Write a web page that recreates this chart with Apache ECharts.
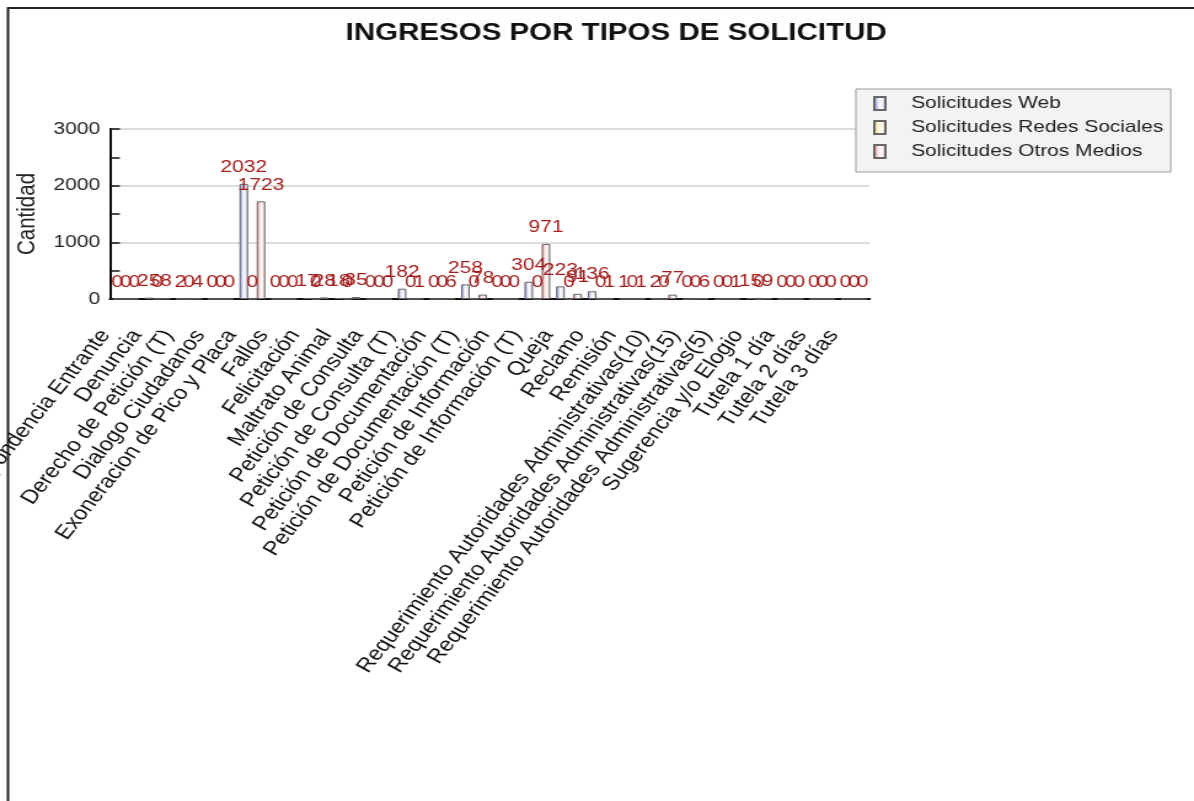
<!DOCTYPE html>
<html>
<head>
<meta charset="utf-8">
<script src="https://cdn.jsdelivr.net/npm/echarts@6/dist/echarts.min.js"></script>
<style>
    html, body { margin: 0; padding: 0; background: #fff; overflow: hidden; }
    /* the reference picture is stretched sideways, so draw narrow and scale x */
    #chart { width: 971px; height: 801px; transform: scaleX(1.2297); transform-origin: 0 0; }
</style>
</head>
<body>
<div id="chart"></div>
<script>
var categories = ['Correspondencia Entrante', 'Denuncia', 'Derecho de Petición (T)', 'Dialogo Ciudadanos',
    'Exoneracion de Pico y Placa', 'Fallos', 'Felicitación', 'Maltrato Animal', 'Petición de Consulta',
    'Petición de Consulta (T)', 'Petición de Documentación', 'Petición de Documentación (T)',
    'Petición de Información', 'Petición de Información (T)', 'Queja', 'Reclamo', 'Remisión',
    'Requerimiento Autoridades Administrativas(10)', 'Requerimiento Autoridades Administrativas(15)',
    'Requerimiento Autoridades Administrativas(5)', 'Sugerencia y/o Elogio', 'Tutela 1 día',
    'Tutela 2 días', 'Tutela 3 días'];
var seriesNames = ['Solicitudes Web', 'Solicitudes Redes Sociales', 'Solicitudes Otros Medios'];
var webValues   = [0, 25, 2, 0, 2032, 0, 17, 18, 0, 182, 0, 258, 0, 304, 223, 136, 1, 2, 0, 0, 15, 0, 0, 0];
var redesValues = [0, 0, 0, 0, 0, 0, 0, 0, 0, 0, 0, 0, 0, 0, 0, 0, 0, 0, 0, 0, 0, 0, 0, 0];
var otrosValues = [0, 8, 4, 0, 1723, 0, 28, 35, 0, 1, 6, 78, 0, 971, 91, 1, 1, 77, 6, 1, 9, 0, 0, 0];
var yTicks = [0, 1000, 2000, 3000];

var font = 'Liberation Sans, Arial, sans-serif';

function barFill(c1, c2) {
    return new echarts.graphic.LinearGradient(0, 0, 1, 0, [
        { offset: 0, color: c1 },
        { offset: 0.5, color: '#ffffff' },
        { offset: 1, color: c2 }
    ]);
}

function makeSeries(name, data, c1, c2) {
    return {
        name: name,
        type: 'bar',
        data: data,
        barWidth: 7,
        barGap: '0%',
        itemStyle: { color: barFill(c1, c2), borderColor: '#666', borderWidth: 1 },
        label: {
            show: true,
            position: 'top',
            distance: 8,
            color: '#a41e1e',
            fontSize: 17,
            fontFamily: font
        }
    };
}

var option = {
    backgroundColor: '#ffffff',
    animation: false,
    title: {
        text: 'INGRESOS POR TIPOS DE SOLICITUD',
        left: 276,
        top: 16,
        textStyle: { fontFamily: font, fontSize: 24, fontWeight: 'bold', color: '#111' }
    },
    legend: {
        orient: 'vertical',
        left: 696,
        top: 89,
        padding: [6, 6, 12, 14],
        itemGap: 7,
        itemWidth: 9,
        itemHeight: 13,
        icon: 'rect',
        backgroundColor: '#f3f3f3',
        borderColor: '#999',
        borderWidth: 1,
        data: seriesNames,
        textStyle: { fontFamily: font, fontSize: 17, color: '#222', padding: [0, 0, 0, 16] }
    },
    grid: { left: 89.4, right: 263.7, top: 129, bottom: 502, containLabel: false, outerBoundsMode: 'none' },
    xAxis: {
        type: 'category',
        data: categories,
        boundaryGap: true,
        axisLine: { lineStyle: { color: '#111', width: 2 } },
        axisTick: { inside: true, length: 10, lineStyle: { color: '#111', width: 1.5 } },
        axisLabel: {
            interval: 0,
            rotate: 56,
            margin: 8,
            padding: [0, 30, 0, 0],
            fontFamily: font,
            fontSize: 19.5,
            color: '#111'
        }
    },
    yAxis: {
        type: 'value',
        min: yTicks[0],
        max: yTicks[yTicks.length - 1],
        interval: 1000,
        name: 'Cantidad',
        nameLocation: 'middle',
        nameGap: 50,
        nameTextStyle: { fontFamily: font, fontSize: 20.5, color: '#222' },
        axisLine: { show: true, lineStyle: { color: '#111', width: 2 } },
        axisTick: { show: true, inside: true, length: 8, lineStyle: { color: '#111', width: 1.5 } },
        minorTick: { show: true, splitNumber: 2, length: 8, lineStyle: { color: '#111', width: 1.5 } },
        axisLabel: {
            margin: 8, fontFamily: font, fontSize: 17, color: '#222',
            formatter: function (v) { return String(v); }
        },
        splitLine: { lineStyle: { color: '#dcdcdc', width: 2 } }
    },
    graphic: [{
        type: 'polyline',
        shape: { points: [[6.5, 801], [6.5, 8], [971, 8]] },
        style: { stroke: '#222', lineWidth: 2, fill: null }
    }],
    series: [
        makeSeries(seriesNames[0], webValues, '#7f87dc', '#c9ccf2'),
        makeSeries(seriesNames[1], redesValues, '#f2cf55', '#f8e7a8'),
        makeSeries(seriesNames[2], otrosValues, '#ee7f7f', '#f6c8c8')
    ]
};

var myChart = echarts.init(document.getElementById('chart'));
myChart.setOption(option);
</script>
</body>
</html>
